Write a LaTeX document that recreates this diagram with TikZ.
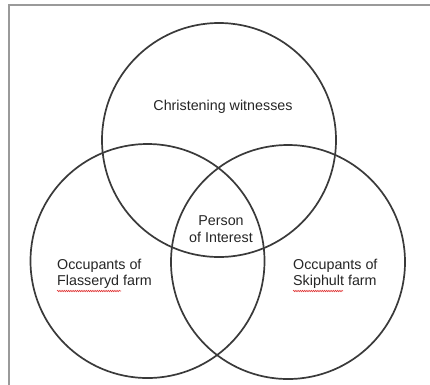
\documentclass[tikz,border=0pt]{standalone}
\usepackage{fontspec}
\setmainfont{Liberation Sans}
\usetikzlibrary{decorations.pathmorphing}
\definecolor{ring}{HTML}{3A3A3A}
\definecolor{frame}{HTML}{9A9A9A}
\definecolor{spell}{HTML}{E03030}
\tikzset{
  setring/.style={circle, draw=ring, line width=1.7pt, minimum size=234pt, inner sep=0pt},
  lbl/.style={font=\fontsize{14.3}{16.5}\selectfont, text=black!85, inner sep=0pt},
  squiggle/.style={draw=spell, line width=0.6pt, decorate, decoration={snake, amplitude=0.7pt, segment length=2.2pt}}
}
\begin{document}
\begin{tikzpicture}[x=1pt,y=1pt]
\useasboundingbox (0,0) rectangle (430,-384);
\fill[white] (0,0) rectangle (430,-384);
\draw[frame, line width=1.5pt] (9,-400) -- (9,-5) -- (440,-5);
\node[setring] (cw) at (219,-140) {};
\node[setring] (fl) at (147.5,-261) {};
\node[setring] (sk) at (288,-262) {};
\node[lbl] (cwt) at (223,-107) {Christening witnesses};
\node[lbl, align=center] (poi) at (221,-229) {Person\\of Interest};
\node[lbl, align=left, anchor=west] (flt) at (57,-274) {Occupants of\\Flasseryd farm};
\node[lbl, align=left, anchor=west] (skt) at (293,-274) {Occupants of\\Skiphult farm};
\coordinate (fa) at (57,-291);
\coordinate (fb) at (121,-291);
\coordinate (sa) at (293,-291);
\coordinate (sb) at (343,-291);
\draw[squiggle] (fa) -- (fb);
\draw[squiggle] (sa) -- (sb);
\end{tikzpicture}
\end{document}
